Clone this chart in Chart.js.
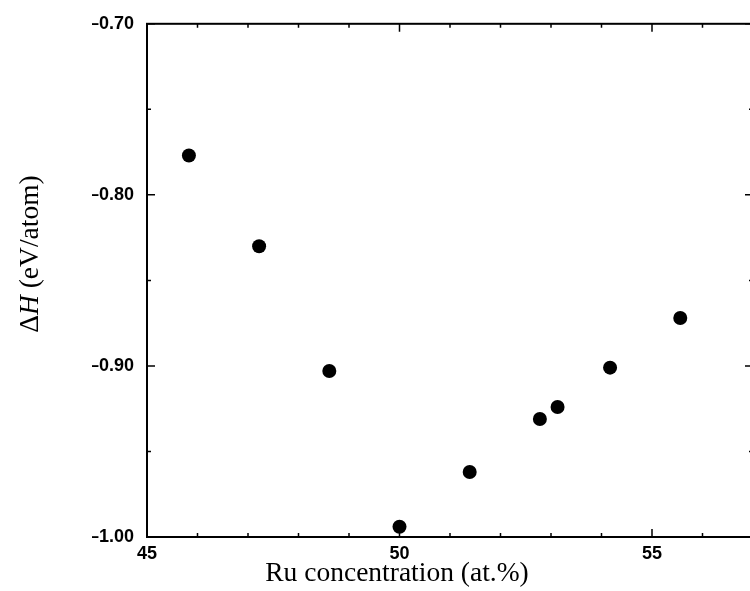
<!DOCTYPE html>
<html>
<head>
<meta charset="utf-8">
<script src="https://cdn.jsdelivr.net/npm/chart.js@4.4.1/dist/chart.umd.min.js"></script>
<style>
  html, body { margin: 0; padding: 0; background: #ffffff; overflow: hidden; }
  #wrap { width: 760px; height: 591px; }
  canvas { display: block; }
</style>
</head>
<body>
<div id="wrap"><canvas id="c" width="760" height="591"></canvas></div>
<script>
// ---- data ----
const ruConcentration = [45.83, 47.22, 48.61, 50.00, 51.39, 52.78, 53.13, 54.17, 55.56];
const deltaH = [-0.777, -0.830, -0.903, -0.994, -0.962, -0.931, -0.924, -0.901, -0.872];
const xTickValues = [45, 50, 55];
const yTickValues = [-1.00, -0.90, -0.80, -0.70];
const xTitle = "Ru concentration (at.%)";
const yTitleParts = [["\u0394", "normal"], ["H", "italic"], [" (eV/atom)", "normal"]];

const X_MIN = 45, X_MAX = 57, Y_MIN = -1.0, Y_MAX = -0.70;
const SERIF = '"Liberation Serif", "Times New Roman", serif';
const SANS = '"Liberation Sans", Arial, "DejaVu Sans", sans-serif';

const framePlugin = {
  id: 'frameTicks',
  afterDraw(chart) {
    const ctx = chart.ctx;
    const a = chart.chartArea;
    const xs = chart.scales.x, ys = chart.scales.y;
    ctx.save();
    ctx.strokeStyle = '#000';
    // frame
    ctx.lineWidth = 2;
    ctx.strokeRect(a.left, a.top, a.right - a.left, a.bottom - a.top);
    // ticks (inward) on all four sides
    ctx.lineWidth = 1.5;
    ctx.beginPath();
    for (let v = X_MIN; v <= X_MAX + 1e-9; v += 1) {
      const px = xs.getPixelForValue(v);
      const len = (Math.round(v) % 5 === 0) ? 8 : 4;
      ctx.moveTo(px, a.bottom); ctx.lineTo(px, a.bottom - len);
      ctx.moveTo(px, a.top); ctx.lineTo(px, a.top + len);
    }
    for (let i = 0; i <= 6; i++) {
      const v = Y_MIN + i * 0.05;
      const py = ys.getPixelForValue(v);
      const len = (i % 2 === 0) ? 8 : 4;
      ctx.moveTo(a.left, py); ctx.lineTo(a.left + len, py);
      ctx.moveTo(a.right, py); ctx.lineTo(a.right - len, py);
    }
    ctx.stroke();

    // axis titles
    ctx.fillStyle = '#000';
    ctx.font = '27.5px ' + SERIF;
    ctx.textAlign = 'center';
    ctx.textBaseline = 'alphabetic';
    ctx.fillText(xTitle, 397, 581);

    // y title with italic H
    ctx.translate(38, 254);
    ctx.rotate(-Math.PI / 2);
    ctx.textAlign = 'left';
    let total = 0;
    const widths = yTitleParts.map(([t, st]) => {
      ctx.font = st + ' 27.5px ' + SERIF;
      const w = ctx.measureText(t).width; total += w; return w;
    });
    let xx = -total / 2;
    yTitleParts.forEach(([t, st], i) => {
      ctx.font = st + ' 27.5px ' + SERIF;
      ctx.fillText(t, xx, 0);
      xx += widths[i];
    });
    ctx.restore();
  }
};

const fmtY = v => (v < 0 ? '\u2013' : '') + Math.abs(v).toFixed(2);

new Chart(document.getElementById('c'), {
  type: 'scatter',
  data: {
    datasets: [{
      data: ruConcentration.map((x, i) => ({ x: x, y: deltaH[i] })),
      pointRadius: 7,
      pointHoverRadius: 7,
      pointBackgroundColor: '#000',
      pointBorderWidth: 0,
      showLine: false
    }]
  },
  options: {
    responsive: false,
    animation: false,
    events: [],
    layout: { padding: { left: 92, top: 23, right: 4, bottom: 0 } },
    plugins: { legend: { display: false }, tooltip: { enabled: false } },
    scales: {
      x: {
        type: 'linear',
        min: X_MIN, max: X_MAX,
        grid: { display: false, drawTicks: false },
        border: { display: false },
        afterBuildTicks: s => { s.ticks = xTickValues.map(v => ({ value: v })); },
        afterFit: s => { s.height = 54; },
        ticks: {
          color: '#000',
          padding: 6,
          maxRotation: 0,
          font: { family: SANS, size: 18, weight: 'bold' },
          callback: v => String(v)
        }
      },
      y: {
        type: 'linear',
        min: Y_MIN, max: Y_MAX,
        grid: { display: false, drawTicks: false },
        border: { display: false },
        afterBuildTicks: s => { s.ticks = yTickValues.map(v => ({ value: v })); },
        afterFit: s => { s.width = 55; },
        ticks: {
          color: '#000',
          padding: 13,
          font: { family: SANS, size: 18, weight: 'bold' },
          callback: v => fmtY(v)
        }
      }
    }
  },
  plugins: [framePlugin]
});
</script>
</body>
</html>
